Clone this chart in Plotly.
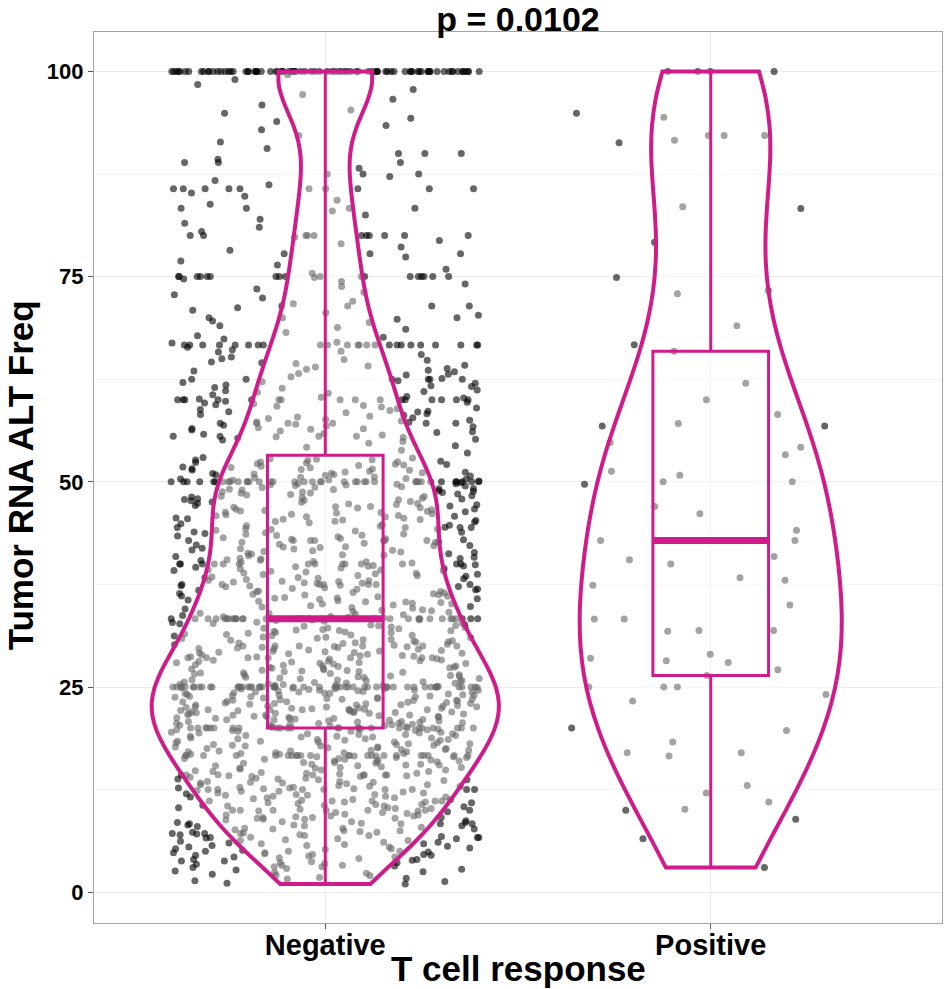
import numpy as np
import plotly.graph_objects as go

# ---------------- data ----------------
categories = ["Negative", "Positive"]
title_text = "p = 0.0102"
x_title = "T cell response"
y_title = "Tumor RNA ALT Freq"
y_tick_values = [0, 25, 50, 75, 100]

# Negative group: values that repeat many times (common allele fractions)
neg_spike_values = [100, 90, 88.89, 87.5, 85.71, 83.33, 80, 77.78, 75, 71.43,
                    70, 66.67, 62.5, 60, 57.14, 55.56, 50, 44.44, 42.86, 40,
                    37.5, 33.33, 30, 28.57, 25, 22.22, 20, 16.67, 14.29, 12.5,
                    11.11, 10, 9.09, 8.33, 7.14, 6.67, 5]
neg_spike_counts = [85, 3, 3, 3, 10, 4, 11, 3, 18, 4,
                    3, 24, 6, 16, 6, 4, 38, 4, 7, 14,
                    7, 40, 6, 7, 50, 6, 24, 22, 7, 7,
                    4, 7, 3, 4, 3, 3, 3]

# Negative group: remaining values, by range
neg_bg_00_10 = [1.0, 1.1, 1.3, 1.4, 1.6, 1.7, 1.8, 2.0, 2.1, 2.2, 2.3, 2.5, 2.6, 2.7, 2.8,
                2.9, 3.0, 3.1, 3.2, 3.3, 3.3, 3.4, 3.5, 3.6, 3.6, 3.7, 3.8, 3.9, 4.0, 4.0,
                4.1, 4.2, 4.3, 4.3, 4.4, 4.5, 4.5, 4.6, 4.7, 4.8, 4.8, 4.9, 2.4, 3.1, 3.8,
                4.6,
                5.1, 5.2, 5.3, 5.4, 5.5, 5.6, 5.7, 5.8, 5.9, 6.0, 6.1, 6.2, 6.3, 6.4, 6.5,
                6.6, 6.8, 6.9, 7.0, 7.1, 7.2, 7.3, 7.4, 7.5, 7.6, 7.7, 7.8, 7.9, 8.0, 8.1,
                8.2, 8.4, 8.5, 8.6, 8.7, 8.8, 8.9, 9.0, 9.2, 9.3, 9.4, 9.5, 9.6, 9.7, 9.8,
                9.9, 5.3, 5.7, 6.1, 6.5, 6.9, 7.3, 7.7, 8.1, 8.5, 8.9, 9.3, 9.7, 5.5, 6.3,
                7.0, 7.8, 8.6, 9.4, 5.9, 6.7, 7.5, 8.2, 9.0, 9.9]
neg_bg_10_20 = [10.1, 10.2, 10.3, 10.4, 10.5, 10.6, 10.7, 10.8, 10.9, 11.0, 11.2, 11.3, 11.4,
                11.5, 11.6, 11.7, 11.8, 11.9, 12.0, 12.1, 12.2, 12.3, 12.4, 12.6, 12.7, 12.8,
                12.9, 13.0, 13.1, 13.2, 13.3, 13.4, 13.5, 13.6, 13.7, 13.8, 13.9, 14.0, 14.1,
                14.2, 14.4, 14.5, 14.6, 14.7, 14.8, 14.9, 10.3, 10.7, 11.1, 11.5, 11.9, 12.3,
                12.7, 13.1, 13.5, 13.9, 14.3, 14.7, 10.5, 11.3, 12.1, 12.9, 13.7, 14.5, 10.9,
                11.7, 12.5, 13.3, 14.1, 14.9, 10.2, 11.0, 11.8, 12.6, 13.4, 14.2, 10.6, 11.6,
                12.8, 13.8,
                15.0, 15.1, 15.2, 15.3, 15.4, 15.5, 15.6, 15.7, 15.8, 15.9, 16.0, 16.1, 16.2,
                16.3, 16.4, 16.5, 16.6, 16.8, 16.9, 17.0, 17.1, 17.2, 17.3, 17.4, 17.5, 17.6,
                17.7, 17.8, 17.9, 18.0, 18.1, 18.2, 18.3, 18.4, 18.5, 18.6, 18.7, 18.8, 18.9,
                19.0, 19.1, 19.2, 19.3, 19.4, 19.5, 19.6, 19.7, 19.8, 19.9, 15.2, 15.6, 16.0,
                16.4, 16.9, 17.3, 17.7, 18.1, 18.5, 18.9, 19.3, 19.7, 15.4, 15.8, 16.2, 16.6,
                17.1, 17.5, 17.9, 18.3, 18.7, 19.1, 19.5, 19.9, 15.1, 15.9, 16.5, 17.2, 17.8,
                18.4, 19.0, 19.6, 15.5, 16.3, 17.0, 17.6, 18.2, 18.8, 19.4, 15.7, 16.8, 17.4,
                18.0, 18.6, 19.2, 19.8, 16.1]
neg_bg_20_30 = [20.1, 20.2, 20.3, 20.4, 20.5, 20.6, 20.7, 20.8, 20.9, 21.0, 21.1, 21.2, 21.3,
                21.4, 21.5, 21.6, 21.7, 21.8, 21.9, 22.0, 22.1, 22.3, 22.4, 22.5, 22.6, 22.7,
                22.8, 22.9, 23.0, 23.1, 23.2, 23.3, 23.4, 23.5, 23.6, 23.7, 23.8, 23.9, 24.0,
                24.1, 24.2, 24.3, 24.4, 24.5, 24.6, 24.7, 24.8, 24.9, 20.15, 20.45, 20.75,
                21.05, 21.35, 21.65, 21.95, 22.35, 22.65, 22.95, 23.25, 23.55, 23.85, 24.15,
                24.45, 24.75, 20.25, 20.55, 20.85, 21.15, 21.45, 21.75, 22.05, 22.45, 22.75,
                23.05, 23.35, 23.65, 23.95, 24.25, 24.55, 24.85, 20.35, 20.65, 20.95, 21.25,
                21.55, 21.85, 22.15, 22.55, 22.85, 23.15, 23.45, 23.75, 24.05, 24.35, 24.65,
                24.95, 20.05, 20.6, 21.2, 21.8, 22.4, 23.0, 23.6, 24.2, 24.8, 20.4, 21.0,
                21.6, 22.6, 23.2, 23.8, 24.4, 20.8, 21.4, 22.0, 22.8, 23.4, 24.0, 24.6, 21.9,
                25.1, 25.2, 25.3, 25.4, 25.5, 25.6, 25.7, 25.8, 25.9, 26.0, 26.1, 26.2, 26.3,
                26.4, 26.5, 26.6, 26.7, 26.8, 26.9, 27.0, 27.1, 27.2, 27.3, 27.4, 27.5, 27.6,
                27.7, 27.8, 27.9, 28.0, 28.1, 28.2, 28.3, 28.4, 28.7, 28.8, 28.9, 29.0, 29.1,
                29.2, 29.3, 29.4, 29.5, 29.6, 29.7, 29.8, 29.9, 25.15, 25.45, 25.75, 26.05,
                26.35, 26.65, 26.95, 27.25, 27.55, 27.85, 28.15, 28.45, 28.75, 29.05, 29.35,
                29.65, 29.95, 25.25, 25.55, 25.85, 26.15, 26.45, 26.75, 27.05, 27.35, 27.65,
                27.95, 28.25, 28.85, 29.15, 29.45, 29.75, 25.35, 25.65, 26.25, 26.85, 27.45,
                28.05, 28.65, 29.25, 29.85]
neg_bg_30_40 = [30.1, 30.2, 30.3, 30.4, 30.5, 30.6, 30.7, 30.8, 30.9, 31.0, 31.1, 31.2, 31.3,
                31.4, 31.5, 31.6, 31.7, 31.8, 31.9, 32.0, 32.1, 32.2, 32.3, 32.4, 32.5, 32.6,
                32.7, 32.8, 32.9, 33.0, 33.1, 33.2, 30.15, 30.45, 30.75, 31.05, 31.35, 31.65,
                31.95, 32.25, 32.55, 32.85, 33.15, 30.35, 30.65, 30.95, 31.25, 31.55, 31.85,
                32.15, 32.45, 32.75,
                33.4, 33.5, 33.6, 33.7, 33.8, 33.9, 34.0, 34.1, 34.2, 34.3, 34.4, 34.5, 34.6,
                34.7, 34.8, 34.9, 33.55, 33.95, 34.35, 34.75,
                35.0, 35.1, 35.2, 35.3, 35.4, 35.5, 35.6, 35.7, 35.8, 35.9, 36.0, 36.1, 36.2,
                36.3, 36.4, 36.5, 36.6, 36.7, 36.8, 36.9, 37.0, 37.1, 37.2, 37.3, 37.4, 37.6,
                37.7, 37.8, 37.9, 38.0, 38.1, 38.2, 38.3, 38.4, 38.5, 38.6, 38.7, 38.8, 38.9,
                39.0, 39.1, 39.2, 39.3, 39.4, 39.5, 39.6, 39.7, 39.8, 39.9, 35.15, 35.45,
                35.75, 36.05, 36.35, 36.65, 36.95, 37.25, 37.65, 37.95, 38.25, 38.55, 38.85,
                39.15, 39.45, 39.75, 35.35, 35.85, 36.45, 36.85, 37.35, 37.85, 38.35, 38.75,
                39.25, 39.65, 36.25]
neg_bg_40_50 = [40.1, 40.2, 40.3, 40.4, 40.5, 40.6, 40.7, 40.8, 40.9, 41.0, 41.1, 41.2, 41.3,
                41.4, 41.5, 41.6, 41.7, 41.8, 41.9, 42.0, 42.1, 42.2, 42.3, 42.4, 42.5, 42.6,
                42.7, 43.0, 43.1, 43.2, 43.3, 43.4, 43.5, 43.6, 43.7, 43.8, 43.9, 44.0, 44.1,
                44.2, 44.3, 44.6, 44.7, 44.8, 44.9, 40.25, 40.65, 41.05, 41.45, 41.85, 42.25,
                42.65, 43.05, 43.45, 43.85, 44.25, 44.65, 40.45, 41.25, 42.05, 42.95, 43.65,
                44.45, 41.65,
                45.0, 45.1, 45.2, 45.3, 45.4, 45.5, 45.6, 45.7, 45.8, 45.9, 46.0, 46.1, 46.2,
                46.3, 46.4, 46.5, 46.6, 46.7, 46.8, 46.9, 47.0, 47.1, 47.2, 47.3, 47.4, 47.5,
                47.6, 47.7, 47.8, 47.9, 48.0, 48.1, 48.2, 48.3, 48.4, 48.5, 48.6, 48.7, 48.8,
                48.9, 49.0, 49.1, 49.2, 49.3, 49.4, 49.5, 49.6, 49.7, 49.8, 49.9, 45.15, 45.45,
                45.75, 46.05, 46.35, 46.65, 46.95, 47.25, 47.55, 47.85, 48.15, 48.45, 48.75,
                49.05, 49.35, 49.65, 45.35, 45.85, 46.45, 46.85, 47.35, 47.75, 48.25, 48.65,
                49.15, 49.55, 45.55, 46.25, 47.05, 47.95, 48.85, 49.75]
neg_bg_50_60 = [50.1, 50.2, 50.3, 50.4, 50.5, 50.6, 50.7, 50.8, 50.9, 51.0, 51.1, 51.2, 51.3,
                51.4, 51.5, 51.6, 51.7, 51.8, 51.9, 52.0, 52.1, 52.2, 52.3, 52.4, 52.5, 52.6,
                52.7, 52.8, 52.9, 50.25, 50.55, 50.85, 51.15, 51.45, 51.75, 52.05, 52.35,
                52.65, 52.95, 51.05, 50.35, 50.95, 51.55, 52.15, 52.75, 52.45,
                53.5, 53.85, 54.2, 54.4, 54.7, 54.9,
                55.1, 55.2, 55.3, 55.4, 55.7, 55.8, 55.9, 56.0, 56.1, 56.2, 56.3, 56.4, 56.5,
                56.6, 56.7, 56.8, 56.9, 57.0, 57.3, 57.4, 57.5, 57.6, 57.7, 57.8, 57.9, 58.0,
                58.1, 58.2, 58.3, 58.4, 58.5, 58.6, 58.7, 58.8, 58.9, 59.0, 59.1, 59.2, 59.3,
                59.4, 59.5, 59.6, 59.7, 59.8, 55.5, 56.45, 57.25, 58.55]
neg_bg_60_80 = [60.2, 60.4, 60.6, 60.8, 61.0, 61.2, 61.4, 61.6, 61.8, 62.0, 62.2, 62.8, 63.0,
                63.2, 63.4, 63.6, 63.8, 64.0, 64.2, 64.4, 64.6, 64.8, 61.1, 62.1, 63.5,
                60.3, 60.9, 61.5, 62.3, 62.6, 63.1, 63.7, 64.1, 64.5, 64.9, 60.1, 61.7,
                65.2, 65.5, 65.8, 66.1, 66.4, 67.0, 67.4, 67.8, 68.2, 68.6, 69.0, 69.4, 69.8,
                65.0, 65.9, 66.9, 67.6, 68.8, 69.6,
                70.3, 70.6, 70.9, 71.2, 71.7, 72.0, 72.4, 72.8, 73.1, 73.5, 73.8, 74.1, 74.4,
                74.7, 74.9,
                75.4, 75.9, 76.4, 76.9, 77.4, 78.2, 78.6, 79.0, 79.4, 79.8]
neg_bg_80_100 = [80.5, 81.0, 81.5, 82.0, 82.5, 83.0, 83.8, 84.3, 84.8,
                 85.2, 86.2, 86.7, 87.2, 88.2, 89.3,
                 90.6, 91.4, 92.2, 92.9, 93.4, 93.9, 94.3, 94.9,
                 95.3, 95.9, 96.6, 97.2, 97.8, 98.4, 99.0, 99.6]

# Positive group (upper and lower part)
pos_upper = [100, 100, 100, 100, 94.9, 94.4, 92.2, 92.2, 92.2, 91.6, 91.3,
             83.5, 83.3, 79.2, 74.9, 73.3, 72.9, 69.0, 66.7, 65.9, 62.0,
             60.0, 58.2, 57.1, 56.8, 56.8, 54.8, 54.2]
pos_lower = [53.3, 51.3, 50.8, 50.0, 50.0, 49.7, 47.0, 46.1, 44.1, 42.86, 42.86, 42.86,
             40.9, 40.5, 40.0, 38.3, 38.0, 37.4, 35.0, 33.3, 33.3, 31.9,
             31.9, 31.8, 29.0, 28.5, 28.2, 28.0, 27.1, 26.4, 25.0, 25.0,
             25.0, 24.1, 23.3, 20.0, 19.7, 18.3, 17.0, 17.0, 16.6, 13.0,
             12.1, 11.0, 10.1, 10.0, 8.9, 6.5, 3.0]

# ---------------- derived ----------------
neg_values = np.concatenate([
    np.repeat(neg_spike_values, neg_spike_counts),
    neg_bg_00_10, neg_bg_10_20, neg_bg_20_30, neg_bg_30_40,
    neg_bg_40_50, neg_bg_50_60, neg_bg_60_80, neg_bg_80_100,
]).astype(float)
pos_values = np.concatenate([pos_upper, pos_lower]).astype(float)


def nrd0(v):
    v = np.asarray(v, float)
    sd = v.std(ddof=1)
    q75, q25 = np.percentile(v, [75, 25])
    return 0.9 * min(sd, (q75 - q25) / 1.34) * len(v) ** -0.2


def box_stats(v):
    q1, med, q3 = np.percentile(v, [25, 50, 75])
    iqr = q3 - q1
    lf = v[v >= q1 - 1.5 * iqr].min()
    uf = v[v <= q3 + 1.5 * iqr].max()
    return q1, med, q3, lf, uf


MAG = "#D01C8B"
FONT = "Liberation Sans, Arial, Helvetica, sans-serif"
groups = [(0, neg_values), (1, pos_values)]
point_sets = [(0, neg_values, 0.8),
              (1, np.asarray(pos_upper, float), 0.9),
              (1, np.asarray(pos_lower, float), 0.9)]
violin_widths = [0.9, 0.68]
box_width = 0.3

fig = go.Figure()

# jittered points (drawn first so the violin fill sits over them)
for pos, vals, w in point_sets:
    fig.add_trace(go.Violin(
        x0=pos, y=vals, width=w, points="all", jitter=1, pointpos=0,
        line=dict(width=0, color="rgba(0,0,0,0)"), fillcolor="rgba(0,0,0,0)",
        marker=dict(color="rgba(0,0,0,0.6)", size=7, line=dict(width=0)),
        spanmode="hard", bandwidth=nrd0(vals), showlegend=False, hoverinfo="skip",
    ))

# violins
for (pos, vals), w in zip(groups, violin_widths):
    fig.add_trace(go.Violin(
        x0=pos, y=vals, width=w, points=False, spanmode="hard", bandwidth=nrd0(vals),
        line=dict(color=MAG, width=4), fillcolor="rgba(255,255,255,0.4)",
        showlegend=False, hoverinfo="skip",
    ))

# boxplots
for pos, vals in groups:
    q1, med, q3, lf, uf = box_stats(vals)
    fig.add_trace(go.Box(
        x=[pos], q1=[q1], median=[med], q3=[q3], lowerfence=[lf], upperfence=[uf],
        width=box_width, whiskerwidth=0, boxpoints=False,
        line=dict(color=MAG, width=3), fillcolor="rgba(0,0,0,0)",
        showlegend=False, hoverinfo="skip",
    ))
    fig.add_shape(type="line", xref="x", yref="y",
                  x0=pos - box_width / 2, x1=pos + box_width / 2, y0=med, y1=med,
                  line=dict(color=MAG, width=7), layer="above")

axis_title_font = dict(family=FONT, size=35, weight="bold", color="black")
fig.add_annotation(text=x_title, xref="paper", yref="paper", x=0.5, y=-0.0508,
                   xanchor="center", yanchor="middle", showarrow=False, font=axis_title_font)
fig.add_annotation(text=y_title, xref="paper", yref="paper", x=-0.0867, y=0.503,
                   xanchor="center", yanchor="middle", textangle=-90, showarrow=False,
                   font=axis_title_font)

fig.update_layout(
    width=945, height=989,
    margin=dict(l=94, r=3, t=32, b=66),
    paper_bgcolor="white", plot_bgcolor="white",
    violinmode="overlay", boxmode="overlay",
    showlegend=False,
    title=dict(text=title_text, x=0.5, xref="paper", xanchor="center",
               y=1 - 19 / 989, yref="container", yanchor="middle",
               font=dict(family=FONT, size=34, weight="bold", color="black")),
    xaxis=dict(
        range=[-0.6, 1.6], tickmode="array", tickvals=[0, 1], ticktext=categories,
        showgrid=True, gridcolor="#ebebeb", gridwidth=1.2, zeroline=False,
        showline=True, mirror=True, linecolor="#a3a3a3", linewidth=1.4,
        ticks="outside", ticklen=5, tickwidth=1.3, tickcolor="#555555",
        ticklabelstandoff=-9, automargin=False,
        tickfont=dict(family=FONT, size=29, weight="bold", color="black"),
    ),
    yaxis=dict(
        range=[-3.75, 104.8], tickmode="array", tickvals=y_tick_values,
        showgrid=True, gridcolor="#ebebeb", gridwidth=1.2, zeroline=False,
        minor=dict(tickmode="array", tickvals=[12.5, 37.5, 62.5, 87.5],
                   showgrid=True, gridcolor="#f2f2f2", gridwidth=1, ticks=""),
        showline=True, mirror=True, linecolor="#a3a3a3", linewidth=1.4,
        ticks="outside", ticklen=5, tickwidth=1.3, tickcolor="#555555",
        automargin=False,
        tickfont=dict(family=FONT, size=22, weight="bold", color="black"),
    ),
)

# remove the default page margin so the figure fills the window exactly; no mode bar
fig.write_html("out.html", config={"displayModeBar": False},
               post_script="document.body.style.margin='0px';")
